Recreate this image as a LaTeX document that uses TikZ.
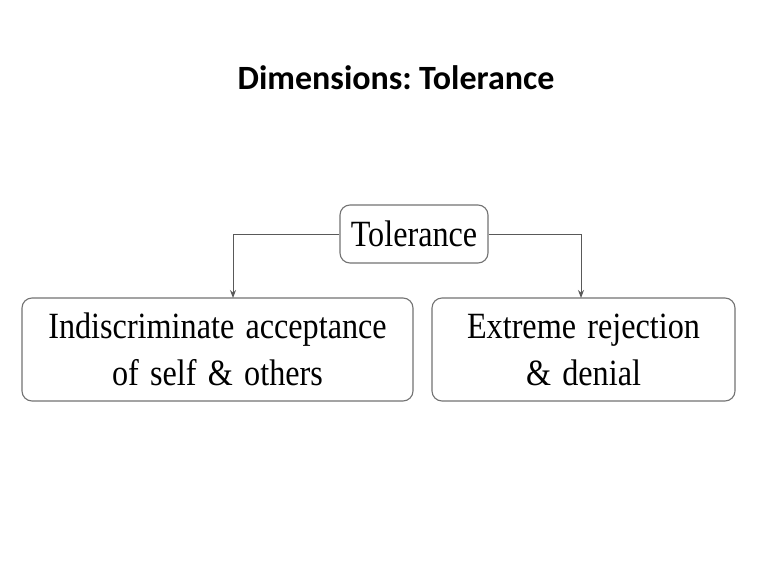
\documentclass[tikz,border=0pt]{standalone}
\usepackage{fontspec}
\setmainfont{Liberation Serif}
\newfontfamily\boxfont[FakeStretch=0.87,WordSpace=1.4]{Liberation Serif}
\newfontfamily\titlefont[WordSpace=0.6]{Carlito}
\usetikzlibrary{positioning,arrows.meta}

\begin{document}
\begin{tikzpicture}[
    x=1pt, y=-1pt, >={Stealth[length=8pt,width=6pt]},
    every node/.style={font=\boxfont\fontsize{37}{47}\selectfont},
    dimbox/.style={draw=black!55, line width=1.1pt, rounded corners=10pt,
        align=center, inner sep=0pt, minimum height=103pt},
    link/.style={draw=black!65, line width=1pt}
]
\useasboundingbox[fill=white] (0,0) rectangle (767,578);

\node[font=\titlefont\bfseries\fontsize{34}{40}\selectfont] (title) at (396,78) {Dimensions: Tolerance};

\node[dimbox, minimum width=148pt, minimum height=58pt] (tol) at (414,234) {Tolerance};
\node[dimbox, minimum width=391pt] (accept) at (217.5,349.5)
    {Indiscriminate acceptance\\of self \& others};
\node[dimbox, minimum width=303pt] (reject) at (583.5,349.5)
    {Extreme rejection\\\& denial};

\coordinate (la) at (233,298);
\coordinate (ra) at (581,298);
\path[link,->]
 (tol.west) -| (la);
\path[link,->]
 (tol.east) -| (ra);
\end{tikzpicture}
\end{document}
